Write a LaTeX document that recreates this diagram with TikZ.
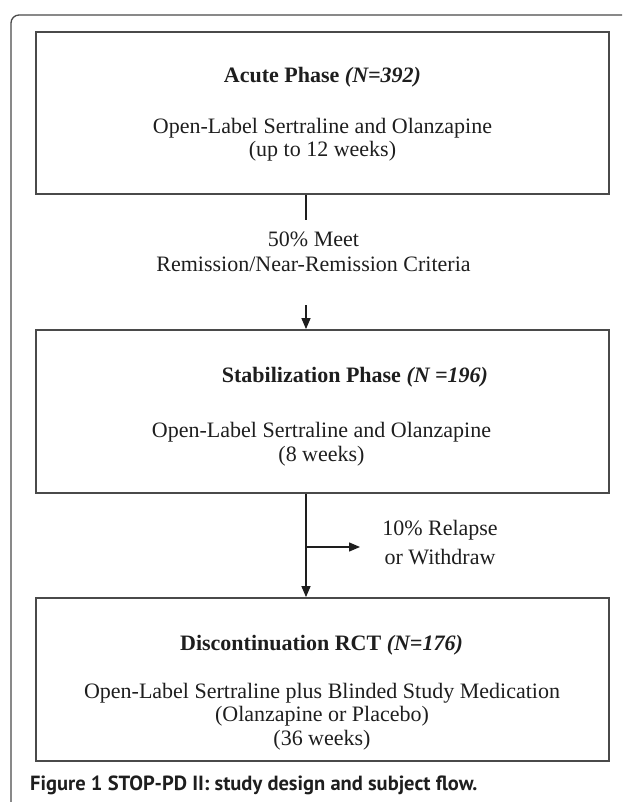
\documentclass[tikz,border=0pt]{standalone}
\usepackage{fontspec}
\setmainfont{Liberation Serif}
\newfontfamily\capfont{PT Sans}
\usetikzlibrary{arrows.meta}
\definecolor{rulegray}{HTML}{4A4A4A}
\definecolor{inkblack}{HTML}{1E1E1E}
\tikzset{
  phasebox/.style={draw=rulegray, line width=1.8pt, minimum width=573pt, inner sep=0pt},
  boxtext/.style={font=\fontsize{22}{23.5}\selectfont, text=inkblack, align=center, anchor=base, inner sep=0pt},
  flowline/.style={draw=inkblack, line width=1.3pt},
  flowarrow/.style={flowline, -{Triangle[length=11pt,width=9pt]}},
}
\begin{document}
\begin{tikzpicture}[x=1pt,y=1pt]
	\useasboundingbox (0,0) rectangle (622,-802);
	% outer frame
	\draw [rulegray, line width=1.3pt, rounded corners=8pt] (11,-802) -- (11,-15) -- (622,-15);

	% phase boxes
	\node [phasebox, minimum height=162pt] (acute) at (322.5,-113) {};
	\node [phasebox, minimum height=163pt] (stab) at (322.5,-411.5) {};
	\node [phasebox, minimum height=163pt] (disc) at (322.5,-679.5) {};

	% box texts (multi-line: placed at baseline of last line)
	\node [boxtext] (acuteT) at (322.5,-83) {\textbf{Acute Phase \textit{(N=392)}}};
	\node [boxtext] (acuteB) at (322.5,-157) {Open-Label Sertraline and Olanzapine\\(up to 12 weeks)};
	\node [boxtext] (stabT) at (355,-382) {\textbf{Stabilization Phase \textit{(N =196)}}};
	\node [boxtext] (stabB) at (321.5,-461) {Open-Label Sertraline and Olanzapine\\(8 weeks)};
	\node [boxtext] (discT) at (321.5,-650) {\textbf{Discontinuation RCT \textit{(N=176)}}};
	\node [boxtext] (discB) at (322,-745) {Open-Label Sertraline plus Blinded Study Medication\\(Olanzapine or Placebo)\\(36 weeks)};

	% labels between boxes
	\node [boxtext] (remit) at (313.5,-271) {50\% Meet\\[1.5pt]Remission/Near-Remission Criteria};
	\node [boxtext] (relapse) at (440,-564) {10\% Relapse\\[5.5pt]or Withdraw};

	% connectors
	\coordinate (stem) at (306,-220);
	\coordinate (stemB) at (306,-305);
	\coordinate (fork) at (306,-547);
	\coordinate (forkend) at (360,-547);
	\draw [flowline] (acute.south -| stem) -- (stem);
	\draw [flowarrow] (stemB) -- (stab.north -| stemB);
	\draw [flowarrow] (stab.south -| fork) -- (disc.north -| fork);
	\draw [flowarrow] (fork) -- (forkend);

	\node [font=\capfont\bfseries\fontsize{20.5}{24}\selectfont, text=inkblack, anchor=base west, inner sep=0pt] (caption) at (30,-790) {Figure 1 STOP-PD II: study design and subject flow.};
\end{tikzpicture}
\end{document}
